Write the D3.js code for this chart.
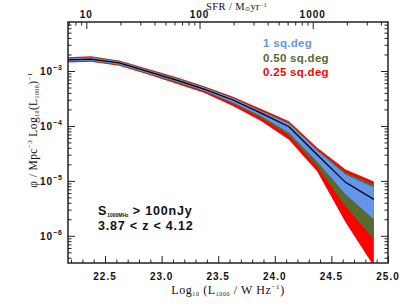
<!DOCTYPE html>
<html>
<head>
<meta charset="utf-8">
<script src="https://cdn.jsdelivr.net/npm/d3@7"></script>
<style>
  body { margin: 0; background: #fff; }
  .num { font-family: "Liberation Sans", Arial, sans-serif; font-weight: bold; font-size: 10px; letter-spacing: 1px; fill: #111; }
  .serif { font-family: "Liberation Serif", "Times New Roman", serif; fill: #111; }
  .axis line { stroke: #222; stroke-width: 1; }
  .axis path { display: none; }
</style>
</head>
<body>
<div id="chart"></div>
<script>
// luminosity bins (log10 L_1000 / W Hz^-1)
const logL = [22.125, 22.375, 22.625, 22.875, 23.125, 23.375, 23.625, 23.875, 24.125, 24.375, 24.625, 24.875]
// median luminosity function
const phiMedian = [1.58e-3, 1.65e-3, 1.40e-3, 9.8e-4, 6.9e-4, 4.7e-4, 3.0e-4, 1.73e-4, 9.7e-5, 3.0e-5, 9.4e-6, 4.6e-6]
// 1 sq.deg scatter
const phi1degHi = [1.68e-3, 1.76e-3, 1.49e-3, 1.04e-3, 7.3e-4, 5.0e-4, 3.24e-4, 1.88e-4, 1.10e-4, 3.56e-5, 1.31e-5, 7.6e-6]
const phi1degLo = [1.49e-3, 1.55e-3, 1.31e-3, 9.2e-4, 6.5e-4, 4.35e-4, 2.69e-4, 1.53e-4, 7.5e-5, 2.24e-5, 5.7e-6, 2.0e-6]
// 0.50 sq.deg scatter
const phi050Hi = [1.72e-3, 1.79e-3, 1.52e-3, 1.06e-3, 7.5e-4, 5.1e-4, 3.31e-4, 1.92e-4, 1.14e-4, 3.7e-5, 1.42e-5, 8.6e-6]
const phi050Lo = [1.46e-3, 1.52e-3, 1.29e-3, 9.0e-4, 6.2e-4, 4.26e-4, 2.58e-4, 1.41e-4, 6.8e-5, 1.82e-5, 3.4e-6, 8.7e-7]
// 0.25 sq.deg scatter
const phi025Hi = [1.77e-3, 1.85e-3, 1.56e-3, 1.10e-3, 7.8e-4, 5.3e-4, 3.45e-4, 2.05e-4, 1.22e-4, 4.0e-5, 1.61e-5, 9.7e-6]
const phi025Lo = [1.42e-3, 1.48e-3, 1.25e-3, 8.7e-4, 5.9e-4, 4.0e-4, 2.32e-4, 1.24e-4, 5.6e-5, 1.48e-5, 1.76e-6, 2.8e-7]

const xTicks = [22.5, 23.0, 23.5, 24.0, 24.5, 25.0]
const yTicks = [1e-6, 1e-5, 1e-4, 1e-3]
const sfrTicks = [10, 100, 1000]
const sfrOffset = 21.335   // log SFR = log L - offset

const fields = [
  { name: "1 sq.deg", color: "#6495ED" },
  { name: "0.50 sq.deg", color: "#556B2F" },
  { name: "0.25 sq.deg", color: "#FF0000" },
]

// dimensions
let dimensions = {
  width: 409,
  height: 307,
  margin: { top: 22, right: 21, bottom: 44, left: 68 },
}
dimensions.boundedWidth = dimensions.width - dimensions.margin.left - dimensions.margin.right
dimensions.boundedHeight = dimensions.height - dimensions.margin.top - dimensions.margin.bottom

const wrapper = d3.select("#chart")
  .append("svg")
    .attr("width", dimensions.width)
    .attr("height", dimensions.height)

const bounds = wrapper.append("g")
  .attr("transform", `translate(${dimensions.margin.left},${dimensions.margin.top})`)

// scales
const xMin = 22.173, xMax = 25.0
const xScale = d3.scaleLinear()
  .domain([xMin, xMax])
  .range([0, dimensions.boundedWidth])

const yScale = d3.scaleLog()
  .domain([3.2e-7, 7.8e-3])
  .range([dimensions.boundedHeight, 0])

const sfrScale = d3.scaleLog()
  .domain([Math.pow(10, xMin - sfrOffset), Math.pow(10, xMax - sfrOffset)])
  .range([0, dimensions.boundedWidth])

bounds.append("clipPath").attr("id", "clip")
  .append("rect")
    .attr("width", dimensions.boundedWidth)
    .attr("height", dimensions.boundedHeight)

const plot = bounds.append("g").attr("clip-path", "url(#clip)")

const rows = logL.map((l, i) => ({
  l, med: phiMedian[i],
  hi1: phi1degHi[i], lo1: phi1degLo[i],
  hi050: phi050Hi[i], lo050: phi050Lo[i],
  hi025: phi025Hi[i], lo025: phi025Lo[i],
}))

const band = (hi, lo) => d3.area()
  .x(d => xScale(d.l))
  .y0(d => yScale(d[lo]))
  .y1(d => yScale(d[hi]))

plot.append("path").attr("d", band("hi025", "lo025")(rows)).attr("fill", fields[2].color)
plot.append("path").attr("d", band("hi050", "lo050")(rows)).attr("fill", fields[1].color)
plot.append("path").attr("d", band("hi1", "lo1")(rows)).attr("fill", fields[0].color)

const medianLine = d3.line()
  .x(d => xScale(d.l))
  .y(d => yScale(d.med))
plot.append("path")
  .attr("d", medianLine(rows))
  .attr("fill", "none")
  .attr("stroke", "#000")
  .attr("stroke-width", 1.3)

// ticks (all pointing inward)
const xMinor = d3.range(222, 251).map(v => v / 10).filter(v => v > xMin && !xTicks.includes(v))
const yMinor = yScale.ticks().filter(v => !yTicks.some(t => Math.abs(t - v) / t < 1e-6))
const sfrMinor = sfrScale.ticks().filter(v => !sfrTicks.includes(v))

const tickAxis = (gen, values, size, transform) => bounds.append("g")
  .attr("class", "axis")
  .attr("transform", transform || null)
  .call(gen.tickValues(values).tickSize(-size).tickFormat(""))

tickAxis(d3.axisBottom(xScale), xTicks, 7, `translate(0,${dimensions.boundedHeight})`)
tickAxis(d3.axisBottom(xScale), xMinor, 3.5, `translate(0,${dimensions.boundedHeight})`)
tickAxis(d3.axisTop(sfrScale), sfrTicks, 7)
tickAxis(d3.axisTop(sfrScale), sfrMinor, 3.5)
tickAxis(d3.axisLeft(yScale), yTicks, 7)
tickAxis(d3.axisLeft(yScale), yMinor, 3.5)
tickAxis(d3.axisRight(yScale), yTicks, 7, `translate(${dimensions.boundedWidth},0)`)
tickAxis(d3.axisRight(yScale), yMinor, 3.5, `translate(${dimensions.boundedWidth},0)`)

bounds.append("rect")
  .attr("width", dimensions.boundedWidth)
  .attr("height", dimensions.boundedHeight)
  .attr("fill", "none")
  .attr("stroke", "#222")
  .attr("stroke-width", 1.5)

// tick labels
bounds.selectAll(".xlab").data(xTicks).join("text")
  .attr("class", "num")
  .attr("x", d => xScale(d))
  .attr("y", dimensions.boundedHeight + 17)
  .attr("text-anchor", "middle")
  .text(d => d.toFixed(1))

bounds.selectAll(".sfrlab").data(sfrTicks).join("text")
  .attr("class", "num")
  .attr("x", d => sfrScale(d))
  .attr("y", -4)
  .attr("text-anchor", "middle")
  .text(d => d)

const ylab = bounds.selectAll(".ylab").data(yTicks).join("text")
  .attr("class", "num")
  .attr("x", -5)
  .attr("y", d => yScale(d) + 4)
  .attr("text-anchor", "end")
ylab.append("tspan").text("10")
ylab.append("tspan").attr("dy", -5).attr("font-size", 7).text(d => "\u2212" + Math.round(-Math.log10(d)))

// axis titles
const xTitle = wrapper.append("text")
  .attr("class", "serif")
  .attr("x", 228).attr("y", 294)
  .attr("text-anchor", "middle")
  .attr("font-size", 12)
  .attr("letter-spacing", 0.6)
xTitle.append("tspan").text("Log")
xTitle.append("tspan").attr("font-size", 6).attr("dy", 2).text("10")
xTitle.append("tspan").attr("dy", -2).text(" (L")
xTitle.append("tspan").attr("font-size", 6).attr("dy", 2).text("1000")
xTitle.append("tspan").attr("dy", -2).text(" / W Hz")
xTitle.append("tspan").attr("font-size", 7).attr("dy", -5).text("\u22121")
xTitle.append("tspan").attr("dy", 5).text(")")

const topTitle = wrapper.append("text")
  .attr("class", "serif")
  .attr("x", 206).attr("y", 9.5)
  .attr("text-anchor", "start")
  .attr("font-size", 10.5)
  .attr("letter-spacing", 0.4)
topTitle.append("tspan").text("SFR / M")
topTitle.append("tspan").attr("font-size", 6).attr("dy", 1.5).text("\u2299")
topTitle.append("tspan").attr("dy", -1.5).text("yr")
topTitle.append("tspan").attr("font-size", 6).attr("dy", -3).text("\u22121")

const yTitle = wrapper.append("text")
  .attr("class", "serif")
  .attr("transform", "translate(37,130) rotate(-90)")
  .attr("text-anchor", "middle")
  .attr("font-size", 11.5)
  .attr("letter-spacing", 0.4)
yTitle.append("tspan").text("\u03c6 / Mpc")
yTitle.append("tspan").attr("font-size", 7).attr("dy", -5).text("\u22123")
yTitle.append("tspan").attr("dy", 5).text(" Log")
yTitle.append("tspan").attr("font-size", 6).attr("dy", 2).text("10")
yTitle.append("tspan").attr("dy", -2).text("(L")
yTitle.append("tspan").attr("font-size", 6).attr("dy", 2).text("1000")
yTitle.append("tspan").attr("dy", -2).text(")")
yTitle.append("tspan").attr("font-size", 7).attr("dy", -5).text("\u22121")

// legend
wrapper.selectAll(".legend").data(fields).join("text")
  .attr("x", 263)
  .attr("y", (d, i) => 47 + i * 14.5)
  .attr("fill", d => d.color)
  .attr("font-family", "Liberation Sans, Arial, sans-serif")
  .attr("font-weight", "bold")
  .attr("font-size", 11.5)
  .attr("letter-spacing", 0.3)
  .text(d => d.name)

// selection annotation
const note1 = wrapper.append("text")
  .attr("x", 98).attr("y", 215)
  .attr("font-family", "Liberation Sans, Arial, sans-serif")
  .attr("font-weight", "bold")
  .attr("font-size", 12.5)
  .attr("letter-spacing", 0.8)
  .attr("fill", "#111")
note1.append("tspan").text("S")
note1.append("tspan").attr("font-size", 5).attr("dy", 1.5).attr("letter-spacing", 0).text("1000MHz")
note1.append("tspan").attr("dy", -1.5).text(" > 100nJy")

wrapper.append("text")
  .attr("x", 98).attr("y", 230)
  .attr("font-family", "Liberation Sans, Arial, sans-serif")
  .attr("font-weight", "bold")
  .attr("font-size", 12.5)
  .attr("letter-spacing", 0.8)
  .attr("fill", "#111")
  .text("3.87 < z < 4.12")
</script>
</body>
</html>
